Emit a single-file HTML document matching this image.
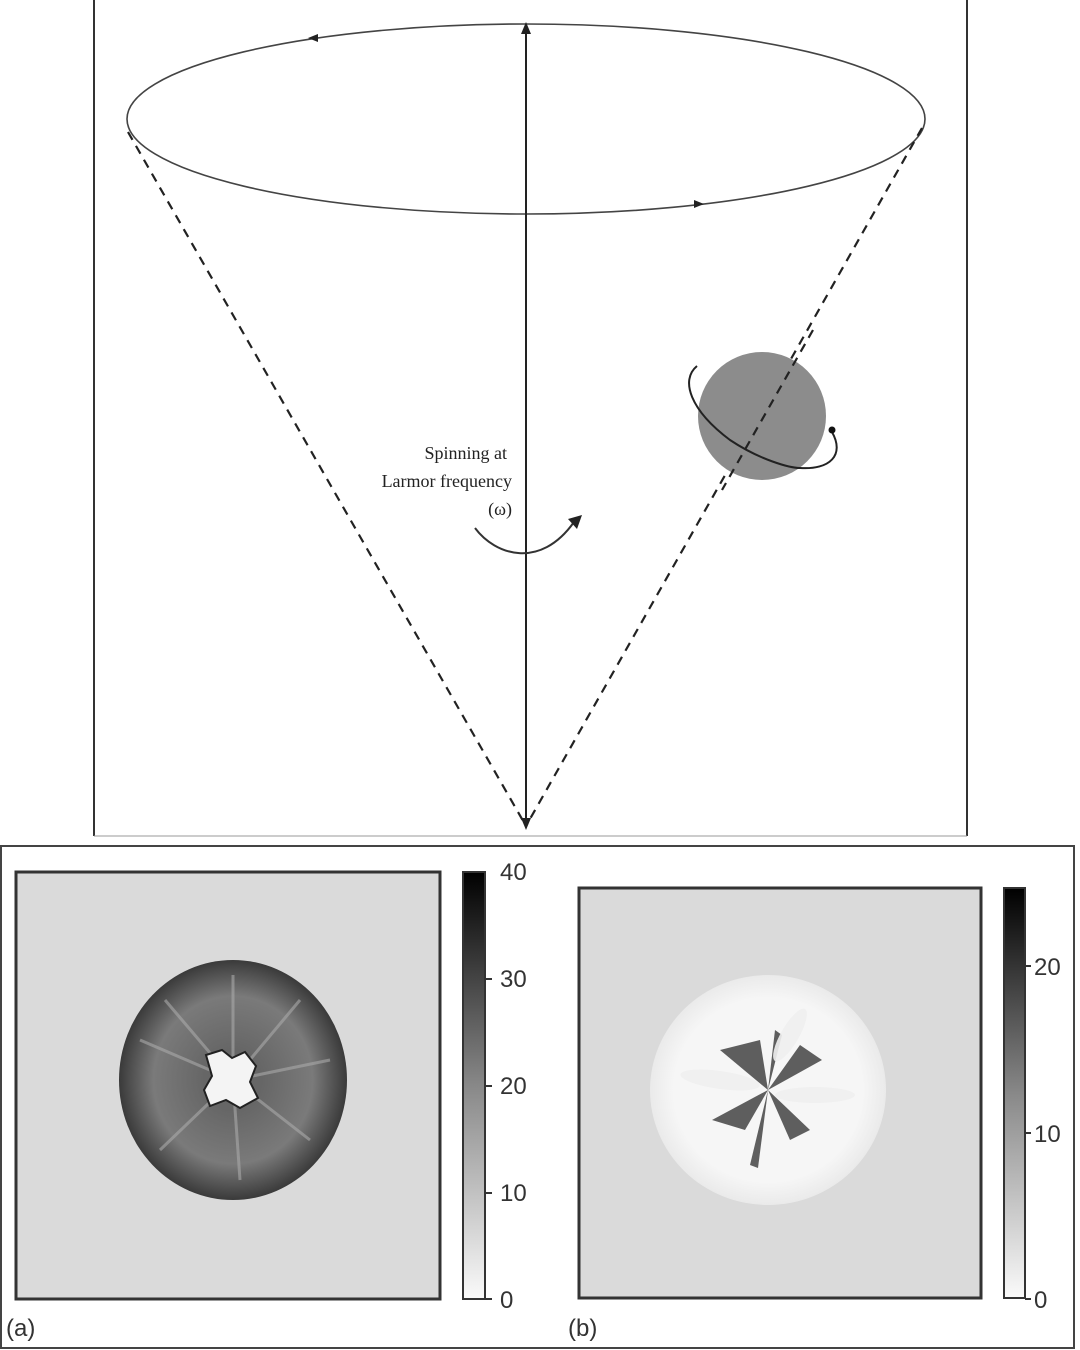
<!DOCTYPE html>
<html><head><meta charset="utf-8"><style>
html,body{margin:0;padding:0;background:#fff;}
svg{display:block;}
</style></head><body>
<svg width="1080" height="1350" viewBox="0 0 1080 1350" xmlns="http://www.w3.org/2000/svg">
<defs>
<linearGradient id="cb" x1="0" y1="1" x2="0" y2="0">
<stop offset="0" stop-color="#fafafa"/><stop offset="0.5" stop-color="#888"/><stop offset="1" stop-color="#000"/>
</linearGradient>
<radialGradient id="da" cx="0.5" cy="0.5" r="0.5">
<stop offset="0.25" stop-color="#666"/><stop offset="0.7" stop-color="#7a7a7a"/><stop offset="1" stop-color="#3a3a3a"/>
</radialGradient>
<radialGradient id="db" cx="0.5" cy="0.5" r="0.5">
<stop offset="0.8" stop-color="#f6f6f6"/><stop offset="1" stop-color="#eaeaea"/>
</radialGradient>
</defs>
<line x1="94" y1="0" x2="94" y2="836" stroke="#333" stroke-width="2"/>
<line x1="967" y1="0" x2="967" y2="836" stroke="#333" stroke-width="2"/>
<line x1="94" y1="836" x2="967" y2="836" stroke="#999" stroke-width="1"/>
<ellipse cx="526" cy="119" rx="399" ry="95" fill="none" stroke="#444" stroke-width="1.6"/>
<polygon points="308,38 318,34 318,42" fill="#222"/>
<polygon points="704,204 694,200 694,208" fill="#222"/>
<line x1="526" y1="28" x2="526" y2="824" stroke="#222" stroke-width="2"/>
<polygon points="526,22 521,34 531,34" fill="#222"/>
<polygon points="526,830 521,818 531,818" fill="#222"/>
<line x1="128" y1="132" x2="526" y2="826" stroke="#222" stroke-width="2.2" stroke-dasharray="9,7"/>
<line x1="922" y1="128" x2="526" y2="826" stroke="#222" stroke-width="2.2" stroke-dasharray="9,7"/>
<circle cx="762" cy="416" r="64" fill="#8c8c8c"/>
<line x1="813" y1="330" x2="722" y2="490" stroke="#222" stroke-width="2.2" stroke-dasharray="9,7"/>
<path d="M697,366 C680,380 690,410 730,440 C760,460 790,468 800,468 C830,470 845,455 832,432" fill="none" stroke="#222" stroke-width="2"/>
<circle cx="832" cy="430" r="3.5" fill="#111"/>
<text x="507" y="459" text-anchor="end" font-family="Liberation Serif,serif" font-size="18" fill="#222">Spinning at</text>
<text x="512" y="487" text-anchor="end" font-family="Liberation Serif,serif" font-size="18" fill="#222">Larmor frequency</text>
<text x="512" y="515" text-anchor="end" font-family="Liberation Serif,serif" font-size="18" fill="#222">(ω)</text>
<path d="M475,528 C495,555 540,570 574,522" fill="none" stroke="#333" stroke-width="2"/>
<polygon points="582,515 568,519 577,529" fill="#222"/>
<rect x="1" y="846" width="1073" height="502" fill="#fff" stroke="#444" stroke-width="2"/>
<rect x="16" y="872" width="424" height="427" fill="#dadada" stroke="#333" stroke-width="3"/>
<ellipse cx="233" cy="1080" rx="114" ry="120" fill="url(#da)"/>
<g stroke="#aaa" stroke-width="3" opacity="0.6">
<line x1="233" y1="1080" x2="233" y2="975"/><line x1="233" y1="1080" x2="330" y2="1060"/>
<line x1="233" y1="1080" x2="140" y2="1040"/><line x1="233" y1="1080" x2="240" y2="1180"/>
<line x1="233" y1="1080" x2="300" y2="1000"/><line x1="233" y1="1080" x2="160" y2="1150"/>
<line x1="233" y1="1080" x2="310" y2="1140"/><line x1="233" y1="1080" x2="165" y2="1000"/>
</g>
<path d="M206,1055 L222,1050 L232,1058 L245,1052 L256,1066 L250,1082 L258,1098 L240,1108 L226,1100 L210,1106 L204,1090 L212,1076 Z" fill="#f4f4f4" stroke="#222" stroke-width="2"/>
<rect x="463" y="872" width="22" height="427" fill="url(#cb)" stroke="#333" stroke-width="2"/>
<g font-family="Liberation Sans,sans-serif" font-size="24" fill="#333">
<text x="500" y="880">40</text><text x="500" y="987">30</text><text x="500" y="1094">20</text><text x="500" y="1201">10</text><text x="500" y="1308">0</text>
<text x="6" y="1336">(a)</text>
<text x="568" y="1336">(b)</text>
<text x="1034" y="975">20</text><text x="1034" y="1142">10</text><text x="1034" y="1308">0</text>
</g>
<g stroke="#333" stroke-width="2">
<line x1="485" y1="979" x2="492" y2="979"/><line x1="485" y1="1086" x2="492" y2="1086"/><line x1="485" y1="1193" x2="492" y2="1193"/><line x1="485" y1="1299" x2="492" y2="1299"/>
<line x1="1025" y1="966" x2="1031" y2="966"/><line x1="1025" y1="1133" x2="1031" y2="1133"/><line x1="1025" y1="1299" x2="1031" y2="1299"/>
</g>
<rect x="579" y="888" width="402" height="410" fill="#dadada" stroke="#333" stroke-width="3"/>
<ellipse cx="768" cy="1090" rx="118" ry="115" fill="url(#db)"/>
<g fill="#444" opacity="0.85">
<polygon points="768,1090 720,1050 760,1040"/>
<polygon points="768,1090 822,1060 800,1045"/>
<polygon points="768,1090 712,1120 745,1130"/>
<polygon points="768,1090 810,1130 790,1140"/>
<polygon points="768,1090 775,1030 782,1035"/>
<polygon points="768,1090 750,1165 758,1168"/>
</g>
<g fill="#f0f0f0" opacity="0.9">
<ellipse cx="720" cy="1080" rx="40" ry="9" transform="rotate(8 720 1080)"/>
<ellipse cx="790" cy="1035" rx="30" ry="9" transform="rotate(-60 790 1035)"/>
<ellipse cx="815" cy="1095" rx="40" ry="8"/>
</g>
<rect x="1004" y="888" width="21" height="410" fill="url(#cb)" stroke="#333" stroke-width="2"/>
</svg>
</body></html>
